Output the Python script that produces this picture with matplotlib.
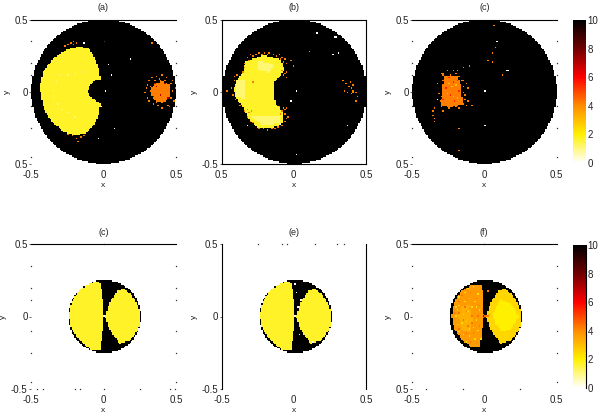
import numpy as np
import matplotlib
matplotlib.use("Agg")
import matplotlib.pyplot as plt
from matplotlib.colors import LinearSegmentedColormap, Normalize
from matplotlib.path import Path

plt.rcParams['font.family'] = ['Liberation Sans', 'DejaVu Sans']

# colour scale
cbar_stops = [0, 2, 4, 6, 8, 10]
cbar_colors = ["#ffffff", "#fff000", "#ff8c00", "#ff0000", "#700000", "#000000"]

# tick labels as they read in the picture
titles = ["(a)", "(b)", "(c)", "(c)", "(e)", "(f)"]
xtick_text = [["-0.5", "0", "0.5"], ["0.5", "0", "0.5"], ["-0.5", "0", "0.5"],
              ["-0.5", "0", "0.5"], ["-0.5", "0", "0.5"], ["-0.5", "0", "0.5"]]
ytick_text = [["0.5", "0", "0.5"], ["-0.5", "0", "0.5"], ["0.5", "0", "0.5"],
              ["-0.5", "0", "0.5"], ["-0.5", "0", "0.5"], ["0.5", "0", "0.5"]]
cbar_labels = ["0", "2", "4", "6", "8", "10"]

# discs (centre x, radius)
top_disc = (0.0, 0.498)
low_disc = (0.008, 0.251)

# region values
v_yellow = 1.7
v_pale = 1.1
v_orange = 4.2
v_f_left = 3.7
v_f_mid = 3.3
v_f_right = 2.5
v_f_right_mid = 2.0

# panel a
a_lobe = [(-0.173, 0.311), (-0.104, 0.300), (-0.058, 0.230), (-0.028, 0.138), (-0.023, 0.085),
          (-0.058, 0.081), (-0.092, 0.046), (-0.111, -0.005), (-0.088, -0.041), (-0.046, -0.065),
          (-0.023, -0.081), (-0.028, -0.150), (-0.069, -0.237), (-0.127, -0.288), (-0.196, -0.304),
          (-0.276, -0.276), (-0.346, -0.219), (-0.403, -0.138), (-0.433, -0.035), (-0.438, 0.046),
          (-0.415, 0.138), (-0.346, 0.230), (-0.253, 0.288)]
a_arc = [(-0.30, 0.11), (-0.33, 0.06), (-0.345, 0.0), (-0.345, -0.05), (-0.32, -0.09), (-0.29, -0.13),
         (-0.25, -0.15), (-0.20, -0.17), (-0.10, 0.12), (-0.15, 0.13), (-0.20, 0.12), (-0.25, 0.115)]
a_core = [(0.33, 0.03), (0.36, 0.06), (0.415, 0.07), (0.46, 0.045), (0.46, -0.035),
          (0.425, -0.075), (0.36, -0.07), (0.325, -0.02)]
a_orange = [(0.29, 0.02), (0.28, -0.01), (0.30, -0.05), (0.33, 0.09), (0.36, 0.10), (0.40, 0.11),
            (0.43, 0.09), (0.47, 0.07), (0.49, 0.02), (0.48, -0.07), (0.44, -0.10), (0.40, -0.12),
            (0.37, -0.10), (0.34, -0.09), (0.31, -0.07), (0.45, -0.11), (0.38, 0.085), (0.31, 0.07),
            (0.32, 0.03), (0.33, -0.03), (0.35, 0.07), (0.42, 0.08), (0.46, 0.05), (0.47, 0.0),
            (0.46, -0.05), (0.41, -0.08), (0.36, -0.08), (0.32, 0.0), (0.30, 0.04), (0.39, 0.07),
            (-0.27, 0.31), (-0.25, 0.32), (-0.23, 0.33), (-0.21, 0.345), (-0.205, 0.32), (-0.19, 0.335),
            (-0.25, -0.30), (-0.22, -0.31), (-0.19, -0.33), (-0.17, -0.34), (-0.16, -0.32), (-0.14, -0.305),
            (0.33, 0.33)]
a_black = [(0.36, 0.03), (0.39, -0.03), (0.42, 0.05), (0.34, -0.04), (0.35, 0.05), (0.44, -0.05)]
a_white = [(0.18, 0.225), (0.03, 0.18), (0.05, 0.11), (0.01, 0.0), (-0.02, -0.11), (0.07, -0.26),
           (-0.04, -0.33), (-0.14, 0.33)]

# panel b
b_lobe = [(-0.34, 0.21), (-0.21, 0.25), (-0.09, 0.22), (-0.07, 0.15), (-0.105, 0.10), (-0.14, 0.06),
          (-0.145, -0.01), (-0.13, -0.08), (-0.085, -0.14), (-0.08, -0.22), (-0.15, -0.25), (-0.25, -0.25),
          (-0.31, -0.20), (-0.36, -0.10), (-0.41, -0.035), (-0.42, 0.025), (-0.38, 0.10), (-0.35, 0.15)]
b_pale_1 = [(-0.25, 0.21), (-0.14, 0.19), (-0.17, 0.13), (-0.25, 0.15)]
b_pale_2 = [(-0.30, -0.165), (-0.10, -0.17), (-0.10, -0.22), (-0.22, -0.235)]
b_pale_3 = [(-0.40, 0.08), (-0.34, 0.08), (-0.34, -0.05), (-0.40, -0.04)]
b_orange = [(-0.09, 0.14), (-0.08, 0.11), (-0.07, 0.125), (-0.055, 0.13), (-0.06, 0.09), (-0.08, -0.12),
            (-0.07, -0.13), (-0.06, -0.115), (-0.09, -0.14), (-0.05, -0.18), (-0.33, -0.13), (-0.32, -0.15),
            (-0.30, -0.14), (0.33, 0.08), (0.35, 0.05), (0.37, 0.03), (0.39, 0.02), (0.40, -0.01),
            (0.41, 0.0), (0.39, -0.02), (0.42, -0.01), (0.36, -0.01), (0.43, -0.04), (0.38, 0.06),
            (0.41, 0.04), (0.34, 0.0), (0.42, -0.07), (0.10, 0.275), (-0.42, 0.10), (-0.46, 0.0),
            (-0.03, 0.21), (-0.01, 0.17), (-0.14, -0.26), (-0.29, 0.06),
            (-0.33, 0.23), (-0.31, 0.25), (-0.29, 0.24), (-0.27, 0.25), (-0.25, 0.26), (-0.23, 0.25),
            (-0.21, 0.26), (-0.19, 0.25), (-0.17, 0.26), (-0.15, 0.25), (-0.13, 0.24), (-0.11, 0.25),
            (-0.09, 0.23), (-0.07, 0.22), (-0.08, 0.20), (-0.06, 0.19), (-0.10, 0.22), (-0.34, 0.19),
            (-0.35, 0.16), (-0.32, 0.21), (-0.36, 0.13), (-0.39, 0.11), (-0.42, 0.07), (-0.44, 0.02),
            (-0.43, -0.03), (-0.41, -0.06), (-0.38, -0.10), (-0.35, -0.14), (-0.33, -0.18), (-0.31, -0.21),
            (-0.28, -0.22), (-0.25, -0.26), (-0.22, -0.26), (-0.19, -0.27), (-0.16, -0.26), (-0.12, -0.25),
            (-0.09, -0.24), (-0.07, -0.21), (-0.06, -0.19), (-0.07, -0.16), (-0.10, -0.16), (-0.11, -0.11)]
b_white = [(0.275, 0.37), (0.285, 0.37), (0.15, 0.41), (0.26, 0.255), (0.30, 0.26), (0.01, 0.0),
           (-0.03, -0.07), (-0.33, -0.24), (0.36, -0.24), (0.01, -0.44), (-0.10, -0.23)]

# panel c
c_core = [(-0.28, 0.105), (-0.185, 0.11), (-0.165, 0.05), (-0.15, -0.085), (-0.237, -0.11),
          (-0.30, -0.095), (-0.29, 0.005)]
c_orange = [(-0.30, 0.12), (-0.26, 0.14), (-0.22, 0.145), (-0.19, 0.14), (-0.15, 0.16), (-0.11, 0.17),
            (-0.15, 0.08), (-0.13, 0.05), (-0.12, 0.02), (-0.14, -0.03), (-0.12, -0.07), (-0.13, -0.10),
            (-0.09, -0.10), (-0.18, -0.12), (-0.28, -0.135), (-0.32, -0.02), (-0.33, 0.05), (-0.35, -0.115),
            (-0.36, -0.14), (-0.355, -0.165), (-0.35, -0.19), (-0.345, -0.21), (0.06, 0.45), (0.07, 0.30),
            (0.05, 0.26), (0.02, 0.215), (0.05, 0.20), (0.12, 0.115), (-0.18, -0.26), (-0.18, -0.40),
            (-0.29, 0.11), (-0.28, 0.12), (-0.24, 0.115), (-0.20, 0.12), (-0.17, 0.10), (-0.16, 0.07),
            (-0.15, 0.03), (-0.15, -0.01), (-0.14, -0.06), (-0.15, -0.09), (-0.20, -0.11), (-0.25, -0.12),
            (-0.30, -0.11), (-0.31, -0.07), (-0.30, -0.04), (-0.29, 0.03), (-0.28, 0.07)]
c_black = [(-0.25, 0.09), (-0.22, 0.06), (-0.27, 0.02), (-0.24, -0.03), (-0.21, -0.07), (-0.18, 0.0),
           (-0.28, -0.06), (-0.19, 0.08)]
c_light = [(-0.23, 0.03), (-0.22, -0.04), (-0.25, 0.05), (-0.20, 0.04), (-0.26, -0.02), (-0.19, -0.05)]
c_white = [(0.15, 0.14), (0.16, 0.14), (0.005, -0.235), (0.0, -0.24), (0.005, 0.005), (0.085, 0.34),
           (-0.33, -0.055)]

# lower panels
low_left = [(-0.028, 0.240), (-0.012, 0.175), (0.0, 0.083), (0.005, 0.002), (-0.005, -0.101), (-0.023, -0.228),
            (-0.092, -0.225), (-0.161, -0.17), (-0.222, -0.085), (-0.24, 0.002), (-0.222, 0.10), (-0.161, 0.187),
            (-0.092, 0.233)]
low_right = [(0.012, 0.0), (0.046, 0.106), (0.092, 0.175), (0.138, 0.191), (0.196, 0.147), (0.242, 0.071),
             (0.254, 0.0), (0.242, -0.09), (0.184, -0.166), (0.115, -0.187), (0.069, -0.136), (0.035, -0.067)]
e_white = [(0.0, 0.22), (0.01, 0.16), (0.02, 0.06), (0.03, -0.13), (0.04, 0.11), (0.12, -0.17)]
d_white = [(0.006, 0.0)]

f_left = [(-0.025, 0.225), (-0.012, 0.165), (-0.008, 0.06), (-0.005, 0.0), (-0.018, -0.101), (-0.03, -0.208),
          (-0.092, -0.21), (-0.161, -0.155), (-0.21, -0.08), (-0.228, 0.002), (-0.21, 0.095), (-0.161, 0.175),
          (-0.092, 0.218)]
f_left_mid = [(-0.16, 0.07), (-0.10, 0.08), (-0.08, -0.02), (-0.10, -0.11), (-0.16, -0.09), (-0.18, 0.0)]
f_right_mid = [(0.06, 0.02), (0.11, 0.12), (0.19, 0.08), (0.24, 0.0), (0.18, -0.09), (0.12, -0.10), (0.07, -0.05)]
f_light = [(-0.20, 0.06), (-0.17, 0.13), (-0.14, 0.16), (-0.11, 0.12), (-0.07, 0.10), (-0.05, 0.15), (-0.04, 0.04),
           (-0.06, -0.03), (-0.05, -0.10), (-0.07, -0.16), (-0.11, -0.14), (-0.15, -0.13), (-0.19, -0.06),
           (-0.12, 0.19), (-0.08, 0.20), (-0.20, 0.0), (-0.03, -0.16), (-0.13, -0.18), (-0.17, 0.08),
           (-0.14, 0.10), (-0.12, 0.03), (-0.15, 0.01), (-0.13, -0.04), (-0.16, -0.05), (-0.11, -0.09),
           (-0.09, 0.06), (-0.06, 0.06), (-0.08, -0.08), (-0.17, -0.11), (-0.19, 0.04)]
f_dark = [(-0.13, 0.03), (-0.15, -0.03), (-0.11, 0.05), (-0.09, 0.0), (-0.12, -0.07), (-0.14, 0.06),
          (-0.17, 0.02), (-0.09, -0.05), (0.0, 0.0), (-0.005, 0.01), (0.005, -0.005), (-0.01, -0.01),
          (-0.18, 0.10), (-0.16, 0.14), (-0.10, 0.16), (-0.06, 0.12), (-0.04, 0.08), (-0.05, 0.0),
          (-0.04, -0.07), (-0.08, -0.12), (-0.13, -0.12), (-0.18, -0.09), (-0.21, 0.02), (-0.10, -0.18)]
f_tip = [(0.015, 0.0), (0.02, 0.005), (0.03, 0.01), (0.02, 0.175)]
f_black = [(-0.005, 0.005), (0.0, -0.005)]

# stray tick dots left after the frame was masked
dots_a = [(-0.5, 0.35), (-0.5, 0.2), (-0.5, 0.115), (-0.5, -0.1), (-0.5, -0.25), (-0.5, -0.45),
          (0.5, 0.35), (0.5, 0.2), (0.5, 0.115), (0.5, -0.1), (0.5, -0.25), (0.5, -0.45), (0.0, 0.35)]
dots_c = [(-0.5, 0.35), (-0.5, 0.2), (-0.5, 0.115), (-0.5, -0.1), (-0.5, -0.25), (-0.5, -0.45),
          (0.5, 0.35), (0.5, 0.2), (0.5, 0.115), (0.5, -0.1), (0.5, -0.25), (0.5, -0.45)]
dots_d = dots_c + [(-0.46, -0.5), (-0.42, -0.5), (-0.2, -0.5), (-0.16, -0.5), (0.0, -0.5), (0.25, -0.5),
                   (0.46, -0.5), (0.49, -0.5), (0.0, 0.5)]
dots_e = [(-0.25, 0.5), (-0.08, 0.5), (-0.05, 0.5), (0.15, 0.5), (0.3, 0.5), (0.35, 0.5)]
dots_f = dots_c + [(-0.4, -0.5), (-0.15, -0.5), (0.25, -0.5), (0.0, 0.5)]

N = 100
edges = np.linspace(-0.5, 0.5, N + 1)
centers = (edges[:-1] + edges[1:]) / 2
X, Y = np.meshgrid(centers, centers)
cell_pts = np.column_stack([X.ravel(), Y.ravel()])


def blank():
    return np.zeros((N, N))


def add_disc(grid, disc):
    # black disc on white
    grid[(X - disc[0]) ** 2 + Y ** 2 <= disc[1] ** 2] = 10


def add_poly(grid, pts, v):
    grid[Path(pts + [pts[0]]).contains_points(cell_pts).reshape(N, N)] = v


def add_cells(grid, pts, v):
    for x, y in pts:
        i = int(np.clip((y + 0.5) * N, 0, N - 1))
        j = int(np.clip((x + 0.5) * N, 0, N - 1))
        grid[i, j] = v


def panel_a():
    g = blank()
    add_disc(g, top_disc)
    add_poly(g, a_lobe, v_yellow)
    add_poly(g, a_core, v_orange)
    add_cells(g, a_arc, v_pale)
    add_cells(g, a_orange, v_orange)
    add_cells(g, a_black, 7)
    add_cells(g, a_white, 0)
    return g


def panel_b():
    g = blank()
    add_disc(g, top_disc)
    add_poly(g, b_lobe, v_yellow)
    add_poly(g, b_pale_1, v_pale)
    add_poly(g, b_pale_2, v_pale)
    add_poly(g, b_pale_3, v_pale)
    add_cells(g, b_orange, v_orange)
    add_cells(g, b_white, 0)
    return g


def panel_c():
    g = blank()
    add_disc(g, top_disc)
    add_poly(g, c_core, v_orange)
    add_cells(g, c_orange, v_orange)
    add_cells(g, c_black, 5.5)
    add_cells(g, c_light, 3)
    add_cells(g, c_white, 0)
    return g


def panel_d():
    g = blank()
    add_disc(g, low_disc)
    add_poly(g, low_left, v_yellow)
    add_poly(g, low_right, v_yellow)
    add_cells(g, d_white, 0)
    return g


def panel_e():
    g = panel_d()
    add_cells(g, e_white, 0)
    return g


def panel_f():
    g = blank()
    add_disc(g, low_disc)
    add_poly(g, f_left, v_f_left)
    add_poly(g, f_left_mid, v_f_mid)
    add_poly(g, low_right, v_f_right)
    add_poly(g, f_right_mid, v_f_right_mid)
    add_cells(g, f_light, v_f_mid - 0.9)
    add_cells(g, f_dark, v_f_left + 0.7)
    add_cells(g, f_tip, v_orange)
    add_cells(g, f_black, 8)
    return g


W, H = 600, 416
cmap = LinearSegmentedColormap.from_list(
    "heat", [(s / 10, c) for s, c in zip(cbar_stops, cbar_colors)], N=256)
norm = Normalize(0, 10)


def place(fig, x0, x1, y0, y1):
    # pixel box -> figure fraction
    return fig.add_axes([x0 / W, 1 - y1 / H, (x1 - x0) / W, (y1 - y0) / H])


fig = plt.figure(figsize=(W / 100, H / 100), dpi=100)

boxes = [(31, 176, 19.5, 164), (221.5, 366, 19.5, 164), (412, 556.5, 19.5, 164),
         (31, 176, 244, 389), (221.5, 366, 244, 389), (412, 556.5, 244, 389)]
grids = [panel_a(), panel_b(), panel_c(), panel_d(), panel_e(), panel_f()]
dots = [dots_a, [], dots_c, dots_d, dots_e, dots_f]
spine_on = [("top",), ("top", "bottom", "left", "right"), ("top",),
            ("top",), ("left", "right"), ("top",)]

for k in range(6):
    ax = place(fig, *boxes[k])
    ax.imshow(grids[k], cmap=cmap, norm=norm, origin="lower", extent=(-0.5, 0.5, -0.5, 0.5),
              interpolation="nearest", aspect="auto")
    for side in ax.spines:
        ax.spines[side].set_visible(side in spine_on[k])
        ax.spines[side].set_linewidth(0.8)
    if dots[k]:
        ax.plot([p[0] for p in dots[k]], [p[1] for p in dots[k]], ls="none", marker="s",
                ms=0.9, mew=0, color="#333333", clip_on=False)
    ax.set_xticks([-0.5, 0, 0.5])
    ax.set_xticklabels(xtick_text[k])
    ax.set_yticks([-0.5, 0, 0.5])
    ax.set_yticklabels(ytick_text[k])
    ax.tick_params(axis="x", length=0, pad=4.5, labelsize=7, colors="#222222")
    ax.tick_params(axis="y", length=1.5, width=0.5, pad=1, labelsize=7, colors="#222222", direction="out")
    ax.set_title(titles[k], fontsize=6.5, pad=6.5, color="#222222")
    ax.set_xlabel("x", fontsize=6, labelpad=1.5, color="#222222")
    ax.set_ylabel("y", fontsize=6, labelpad=2.5, color="#222222")

# colour bars
sm = plt.cm.ScalarMappable(norm=norm, cmap=cmap)
for y0, y1, right_line in [(20, 163, False), (245, 388, True)]:
    cax = place(fig, 573, 585.5, y0, y1)
    cb = fig.colorbar(sm, cax=cax)
    cb.set_ticks(cbar_stops)
    cb.set_ticklabels(cbar_labels)
    cb.outline.set_visible(False)
    cb.ax.tick_params(length=0, pad=1.5, labelsize=7, colors="#222222")
    if right_line:
        cb.ax.spines["right"].set_visible(True)
        cb.ax.spines["right"].set_linewidth(0.8)

fig.savefig("out.png", dpi=100)
